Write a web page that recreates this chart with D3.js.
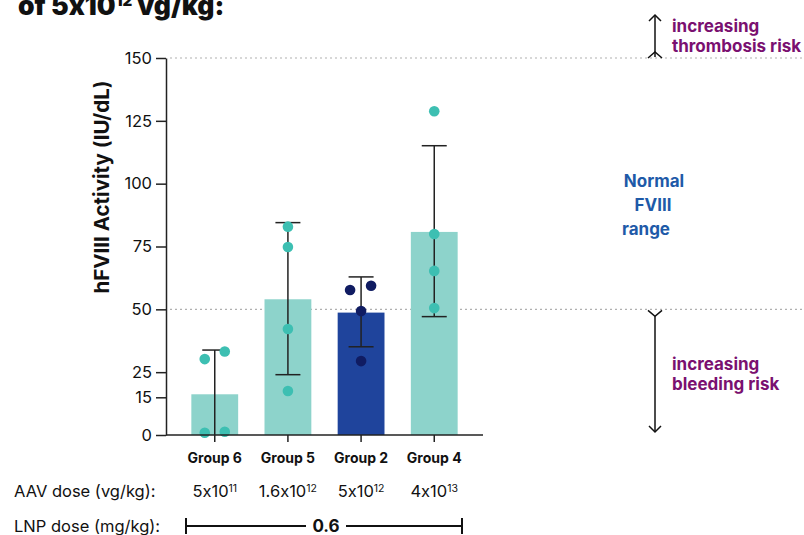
<html>
<head>
<meta charset="utf-8">
<script src="https://d3js.org/d3.v7.min.js"></script>
<style>
  body { margin: 0; background: #fff; }
  svg text { font-family: "Inter", "Liberation Sans", sans-serif; font-feature-settings: "calt" 0; }
</style>
</head>
<body>
<div id="chart"></div>
<script>
// data
var groups = ["Group 6", "Group 5", "Group 2", "Group 4"];
var barMeans = [16.2, 54.0, 48.7, 80.8];
var errTop = [33.8, 84.5, 62.9, 115.1];
var errBottom = [0, 24.0, 35.1, 47.1];
var pointsG6 = [30.2, 33.2, 0.9, 1.3];
var pointsG5 = [82.9, 74.8, 42.2, 17.5];
var pointsG2 = [57.7, 59.4, 49.3, 29.4];
var pointsG4 = [128.8, 80.0, 65.3, 50.5];
var pointOffsets = [[-10, 10, -10, 10], [0, 0, 0, 0], [-11, 10, 0, 0], [0, 0, 0, 0]];
var aavMantissa = ["5x10", "1.6x10", "5x10", "4x10"];
var aavExponent = ["11", "12", "12", "13"];
var yTicks = [0, 15, 25, 50, 75, 100, 125, 150];
var refLines = [150, 50];
var lnpDose = "0.6";

var allPoints = [pointsG6, pointsG5, pointsG2, pointsG4];
var teal = "#8dd3cb", tealDot = "#3dbfb2", navy = "#1f449c", navyDot = "#101c62";
var purple = "#7a1070", blue = "#1e5aa8";

var W = 804, H = 535;
var svg = d3.select("#chart").append("svg").attr("width", W).attr("height", H);

var x = d3.scaleBand().domain(groups).range([165, 484]).paddingInner(0.36).paddingOuter(0.36);
var y = d3.scaleLinear().domain([0, 150]).range([435, 58]);

// title fragment at top
var title = svg.append("text").attr("x", 18).attr("y", 15)
  .attr("font-size", 26.5).attr("font-weight", 900).attr("fill", "#111");
title.append("tspan").text("of 5x10");
title.append("tspan").attr("font-size", 15).attr("dy", -9).text("12");
title.append("tspan").attr("dy", 9).text(" vg/kg:");

// reference lines
svg.selectAll(".ref").data(refLines).enter().append("line")
  .attr("x1", 170).attr("x2", W)
  .attr("y1", d => y(d)).attr("y2", d => y(d))
  .attr("stroke", "#b0b0b0").attr("stroke-width", 1.2).attr("stroke-dasharray", "2,3");

// bars
svg.selectAll(".bar").data(groups).enter().append("rect")
  .attr("x", d => x(d)).attr("width", x.bandwidth())
  .attr("y", (d, i) => y(barMeans[i]))
  .attr("height", (d, i) => y(0) - y(barMeans[i]))
  .attr("fill", d => d === "Group 2" ? navy : teal);

// error bars
groups.forEach(function (g, i) {
  var cx = x(g) + x.bandwidth() / 2;
  svg.append("line").attr("x1", cx).attr("x2", cx)
    .attr("y1", y(errTop[i])).attr("y2", y(errBottom[i]))
    .attr("stroke", "#222").attr("stroke-width", 1.5);
  svg.append("line").attr("x1", cx - 12.5).attr("x2", cx + 12.5)
    .attr("y1", y(errTop[i])).attr("y2", y(errTop[i]))
    .attr("stroke", "#222").attr("stroke-width", 1.5);
  if (errBottom[i] > 0) {
    svg.append("line").attr("x1", cx - 12.5).attr("x2", cx + 12.5)
      .attr("y1", y(errBottom[i])).attr("y2", y(errBottom[i]))
      .attr("stroke", "#222").attr("stroke-width", 1.5);
  }
});

// points
groups.forEach(function (g, i) {
  var cx = x(g) + x.bandwidth() / 2;
  svg.selectAll(".pt" + i).data(allPoints[i]).enter().append("circle")
    .attr("cx", (d, j) => cx + pointOffsets[i][j])
    .attr("cy", d => y(d))
    .attr("r", 5.3)
    .attr("fill", g === "Group 2" ? navyDot : tealDot);
});

// axes
var yAxis = svg.append("g").attr("transform", "translate(166,0)")
  .call(d3.axisLeft(y).tickValues(yTicks).tickSize(10).tickPadding(4).tickSizeOuter(0));
yAxis.select(".domain").attr("stroke", "#222").attr("stroke-width", 1.5);
yAxis.selectAll(".tick line").attr("stroke", "#222").attr("stroke-width", 1.5);
yAxis.selectAll(".tick text").attr("font-size", 16.5).attr("fill", "#111")
  .style("font-family", "Inter, sans-serif");

var xAxis = svg.append("g").attr("transform", "translate(0,435)")
  .call(d3.axisBottom(x).tickSize(7).tickPadding(6).tickSizeOuter(0));
xAxis.select(".domain").attr("d", "M166,0H483").attr("stroke", "#222").attr("stroke-width", 1.5);
xAxis.selectAll(".tick line").attr("stroke", "#222").attr("stroke-width", 1.5);
xAxis.selectAll(".tick text").attr("font-size", 14).attr("font-weight", 700).attr("fill", "#111")
  .attr("dy", "1.05em").style("font-family", "Inter, sans-serif");

// y label
svg.append("text")
  .attr("transform", "translate(109,187) rotate(-90)")
  .attr("text-anchor", "middle").attr("font-size", 20.5).attr("font-weight", 700).attr("fill", "#111")
  .text("hFVIII Activity (IU/dL)");

// dose rows
svg.append("text").attr("x", 14).attr("y", 497).attr("font-size", 16.5).attr("fill", "#111")
  .text("AAV dose (vg/kg):");
groups.forEach(function (g, i) {
  var cx = x(g) + x.bandwidth() / 2;
  var t = svg.append("text").attr("x", cx).attr("y", 497).attr("text-anchor", "middle")
    .attr("font-size", 16.5).attr("fill", "#111");
  t.append("tspan").text(aavMantissa[i]);
  t.append("tspan").attr("font-size", 10.5).attr("dy", -5).text(aavExponent[i]);
});

svg.append("text").attr("x", 14).attr("y", 532).attr("font-size", 16.5).attr("fill", "#111")
  .text("LNP dose (mg/kg):");
var lx0 = 186, lx1 = 462, ly = 526, mid = 326;
svg.append("line").attr("x1", lx0).attr("x2", mid - 20).attr("y1", ly).attr("y2", ly)
  .attr("stroke", "#111").attr("stroke-width", 2);
svg.append("line").attr("x1", mid + 20).attr("x2", lx1).attr("y1", ly).attr("y2", ly)
  .attr("stroke", "#111").attr("stroke-width", 2);
[lx0, lx1].forEach(function (v) {
  svg.append("line").attr("x1", v).attr("x2", v).attr("y1", ly - 8).attr("y2", ly + 8)
    .attr("stroke", "#111").attr("stroke-width", 2);
});
svg.append("text").attr("x", mid).attr("y", 532).attr("text-anchor", "middle")
  .attr("font-size", 17).attr("font-weight", 700).attr("fill", "#111").text(lnpDose);

// risk arrows
var ax = 655;
function arrowPath(d) {
  svg.append("path").attr("d", d).attr("fill", "none").attr("stroke", "#111").attr("stroke-width", 1.5);
}
arrowPath("M" + ax + "," + 15 + "V" + (y(150) - 1));
arrowPath("M" + (ax - 6) + ",21L" + ax + ",15L" + (ax + 6) + ",21");
arrowPath("M" + (ax - 7) + "," + y(150) + "L" + ax + "," + (y(150) - 6) + "L" + (ax + 7) + "," + y(150));

arrowPath("M" + ax + "," + (y(50) + 7) + "V432");
arrowPath("M" + (ax - 7) + "," + (y(50) + 1) + "L" + ax + "," + (y(50) + 7) + "L" + (ax + 7) + "," + (y(50) + 1));
arrowPath("M" + (ax - 6) + ",426L" + ax + ",432L" + (ax + 6) + ",426");

function label(txt, xx, yy, col, anchor) {
  svg.append("text").attr("x", xx).attr("y", yy).attr("font-size", 17).attr("font-weight", 700)
    .attr("fill", col).attr("text-anchor", anchor || "start").text(txt);
}
label("increasing", 672, 32, purple);
label("thrombosis risk", 672, 52, purple);
label("increasing", 672, 370, purple);
label("bleeding risk", 672, 390, purple);
label("Normal", 654, 187, blue, "middle");
label("FVIII", 653, 211, blue, "middle");
label("range", 646, 235, blue, "middle");
</script>
</body>
</html>
